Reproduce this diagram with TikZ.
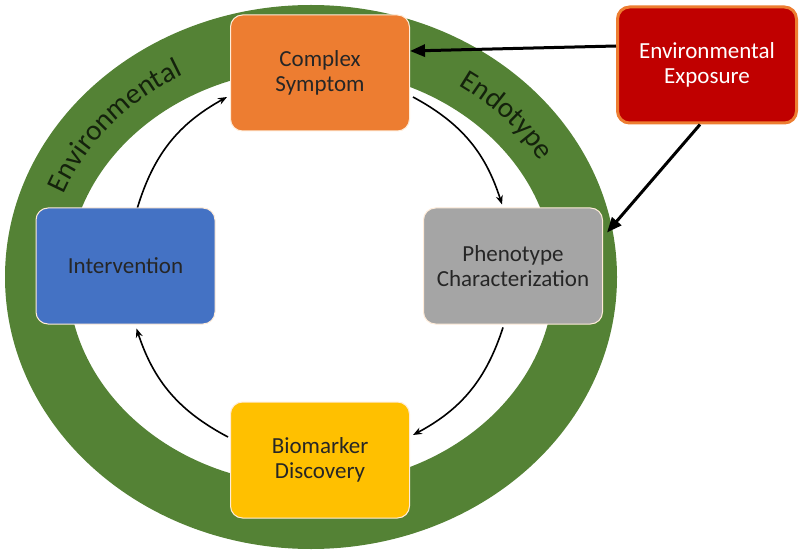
\documentclass[tikz,border=0pt]{standalone}
\usepackage{fontspec}
\setmainfont{Carlito}
\usetikzlibrary{arrows.meta,decorations.text}
\definecolor{ringgreen}{RGB}{84,130,53}
\definecolor{ringtext}{RGB}{20,34,12}
\definecolor{symorange}{RGB}{237,125,49}
\definecolor{intblue}{RGB}{68,114,196}
\definecolor{phengray}{RGB}{165,165,165}
\definecolor{bioyellow}{RGB}{255,192,0}
\definecolor{expred}{RGB}{192,0,0}

\begin{document}
\begin{tikzpicture}[x=1pt, y=1pt,
    box/.style = {draw=white!85!orange, line width=1pt, rounded corners=12pt, minimum width=179pt, minimum height=116pt, align=center, font=\fontsize{23}{25}\selectfont, text=black!85},
    cyc/.style = {-{Stealth[length=9pt,width=7pt]}, line width=1.6pt},
    expo/.style = {-{Triangle[length=15pt,width=12pt]}, line width=3pt},
    ringlabel/.style = {decorate, decoration={text along path, text align=center, text={|\fontsize{29}{29}\selectfont\color{ringtext}|#1}}}]
    \useasboundingbox (0,0) rectangle (800,555);

    \fill[ringgreen, even odd rule] (311,278) ellipse [x radius=306, y radius=272]
        (311,278) ellipse [x radius=243, y radius=208];
    \path[ringlabel=Environmental] (311,278) ++(161:265 and 231) arc[start angle=161, end angle=117, x radius=265, y radius=231];
    \path[ringlabel=Endotype] (311,278) ++(60:265 and 231) arc[start angle=60, end angle=26, x radius=265, y radius=231];

    \node[box, fill=symorange] (sym) at (320,482) {Complex\\Symptom};
    \node[box, fill=intblue] (int) at (125.5,289) {Intervention};
    \node[box, fill=phengray] (phen) at (513,289) {Phenotype\\Characterization};
    \node[box, fill=bioyellow] (bio) at (320,95) {Biomarker\\Discovery};
    \node[box, fill=expred, draw=symorange, line width=3pt, text=white] (exp) at (707,490) {Environmental\\Exposure};

    \draw[cyc] ([xshift=12pt]int.north) to[bend left=22] ([xshift=-3pt,yshift=-24pt]sym.west);
    \draw[cyc] ([xshift=3pt,yshift=-24pt]sym.east) to[bend left=22] ([xshift=-11pt,yshift=3pt]phen.north);
    \draw[cyc] ([xshift=-10pt,yshift=-3pt]phen.south) to[bend left=22] ([xshift=3pt,yshift=25pt]bio.east);
    \draw[cyc] ([xshift=-2pt,yshift=23pt]bio.west) to[bend left=22] ([xshift=11pt,yshift=-4pt]int.south);

    \draw[expo] ([yshift=19pt]exp.west) -- ([yshift=22pt]sym.east);
    \draw[expo] ([xshift=-7pt]exp.south) -- ([xshift=4pt,yshift=-25pt]phen.north east);
\end{tikzpicture}
\end{document}
